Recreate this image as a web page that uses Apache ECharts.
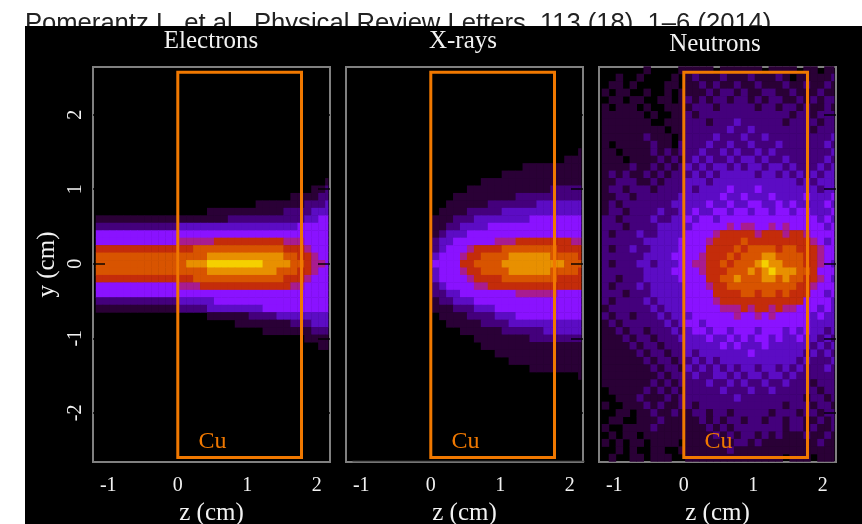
<!DOCTYPE html>
<html>
<head>
<meta charset="utf-8">
<style>
  html, body { margin: 0; padding: 0; background: #fff; }
  #chart { width: 862px; height: 524px; }
</style>
<script src="https://cdn.jsdelivr.net/npm/echarts@6/dist/echarts.min.js"></script>
</head>
<body>
<div id="chart"></div>
<script>
const panelTitles = ['Electrons', 'X-rays', 'Neutrons']
const citation = 'Pomerantz I., et al., Physical Review Letters, 113 (18), 1–6 (2014).'
const zTicks = [-1, 0, 1, 2]
const yTicks = [-2, -1, 0, 1, 2]
// Cu target: z from, z to, y from, y to
const cuBox = [0, 1.78, -2.6, 2.57]

// bin centres in cm
const zBins = [-1.13,-1.03,-0.93,-0.83,-0.73,-0.63,-0.53,-0.43,-0.33,-0.23,-0.13,-0.03,0.07,0.17,0.27,0.37,0.47,0.57,0.67,0.77,0.87,0.97,1.07,1.17,1.27,1.37,1.47,1.57,1.67,1.77,1.87,1.97,2.07,2.17]
const xrayZ = [0.07,0.17,0.27,0.37,0.47,0.57,0.67,0.77,0.87,0.97,1.07,1.17,1.27,1.37,1.47,1.57,1.67,1.77,1.87,1.97,2.07,2.17]

// dose level per cell, 0 (black) to 9 (yellow)
const electronY = [1.1,1,0.9,0.8,0.7,0.6,0.5,0.4,0.3,0.2,0.1,0,-0.1,-0.2,-0.3,-0.4,-0.5,-0.6,-0.7,-0.8,-0.9,-1,-1.1]
const electronRows = [
  [0,0,0,0,0,0,0,0,0,0,0,0,0,0,0,0,0,0,0,0,0,0,0,0,0,0,0,0,0,0,0,0,0,1],
  [0,0,0,0,0,0,0,0,0,0,0,0,0,0,0,0,0,0,0,0,0,0,0,0,0,0,0,0,0,0,0,1,1,2],
  [0,0,0,0,0,0,0,0,0,0,0,0,0,0,0,0,0,0,0,0,0,0,0,0,0,0,0,0,1,1,1,1,2,2],
  [0,0,0,0,0,0,0,0,0,0,0,0,0,0,0,0,0,0,0,0,0,0,0,1,1,1,1,1,1,1,2,2,2,3],
  [0,0,0,0,0,0,0,0,0,0,0,0,0,0,0,0,1,1,1,1,1,1,1,1,1,1,1,2,2,2,2,3,3,3],
  [1,1,1,1,1,1,1,1,1,1,1,1,1,1,1,1,1,1,1,2,2,2,2,2,2,2,2,2,2,2,3,3,4,4],
  [2,2,2,2,2,2,2,2,2,2,2,2,3,3,3,3,3,3,3,3,3,3,3,3,3,3,3,3,3,4,4,4,4,4],
  [4,4,4,4,4,4,4,4,4,4,4,4,4,4,4,4,4,4,4,4,4,4,4,4,4,4,4,4,4,4,4,4,4,4],
  [4,4,4,4,4,4,4,4,4,4,4,4,5,5,5,5,5,6,6,6,6,6,6,6,6,6,6,5,5,5,4,4,4,4],
  [6,6,6,6,6,6,6,6,6,6,6,6,6,6,7,7,7,7,7,7,7,7,7,7,7,7,7,6,6,6,5,4,4,4],
  [7,7,7,7,7,7,7,7,7,7,7,7,7,7,7,7,8,8,8,8,8,8,8,8,8,8,8,7,7,6,6,5,4,4],
  [7,7,7,7,7,7,7,7,7,7,7,7,7,8,8,8,9,9,9,9,9,9,9,9,8,8,8,8,7,7,6,5,5,4],
  [7,7,7,7,7,7,7,7,7,7,7,7,7,7,7,7,8,8,8,8,8,8,8,8,8,8,7,7,7,6,6,5,4,4],
  [6,6,6,6,6,6,6,6,6,6,6,6,6,6,7,7,7,7,7,7,7,7,7,7,7,7,7,6,6,6,5,4,4,4],
  [4,4,4,4,4,4,4,4,4,4,4,4,5,5,5,6,6,6,6,6,6,6,6,6,6,6,6,6,5,5,4,4,4,4],
  [4,4,4,4,4,4,4,4,4,4,4,4,4,4,4,4,4,4,4,4,4,4,4,4,4,4,4,4,4,4,4,4,4,4],
  [2,2,2,2,2,2,2,2,2,2,2,2,3,3,3,3,3,4,4,4,4,4,4,4,4,4,4,4,4,4,4,4,4,4],
  [1,1,1,1,1,1,1,1,1,1,1,1,2,2,2,2,3,3,3,3,3,3,3,3,4,4,4,4,4,4,4,4,4,4],
  [0,0,0,0,0,0,0,0,0,0,0,0,0,0,0,0,1,1,1,1,1,1,2,2,2,2,3,3,3,3,3,3,3,3],
  [0,0,0,0,0,0,0,0,0,0,0,0,0,0,0,0,0,0,0,0,1,1,1,1,1,1,1,1,2,2,2,3,3,3],
  [0,0,0,0,0,0,0,0,0,0,0,0,0,0,0,0,0,0,0,0,0,0,0,0,1,1,1,1,1,1,1,2,2,2],
  [0,0,0,0,0,0,0,0,0,0,0,0,0,0,0,0,0,0,0,0,0,0,0,0,0,0,0,0,0,0,1,1,1,1],
  [0,0,0,0,0,0,0,0,0,0,0,0,0,0,0,0,0,0,0,0,0,0,0,0,0,0,0,0,0,0,0,0,1,1]
]

const xrayY = [1.5,1.4,1.3,1.2,1.1,1,0.9,0.8,0.7,0.6,0.5,0.4,0.3,0.2,0.1,0,-0.1,-0.2,-0.3,-0.4,-0.5,-0.6,-0.7,-0.8,-0.9,-1,-1.1,-1.2,-1.3,-1.4,-1.5]
const xrayRows = [
  [0,0,0,0,0,0,0,0,0,0,0,0,0,0,0,0,0,0,0,0,0,1],
  [0,0,0,0,0,0,0,0,0,0,0,0,0,0,0,0,0,0,0,1,1,1],
  [0,0,0,0,0,0,0,0,0,0,0,0,0,1,1,1,1,1,1,1,1,1],
  [0,0,0,0,0,0,0,0,0,0,1,1,1,1,1,1,1,1,1,1,1,1],
  [0,0,0,0,0,0,0,1,1,1,1,1,1,1,1,1,1,1,1,1,1,1],
  [0,0,0,0,0,1,1,1,1,1,1,1,1,1,1,1,1,2,2,2,2,2],
  [0,0,0,1,1,1,1,1,1,1,1,1,2,2,2,2,2,2,2,2,2,2],
  [0,0,1,1,1,1,1,1,2,2,2,2,2,2,2,3,3,3,3,3,3,3],
  [0,1,1,1,1,2,2,2,2,2,3,3,3,3,3,3,3,3,3,3,3,3],
  [1,1,1,2,2,2,3,3,3,3,3,3,3,3,4,4,4,4,4,4,4,4],
  [1,1,2,2,3,3,3,3,4,4,4,4,4,4,4,4,4,4,4,4,4,4],
  [1,2,3,3,3,4,4,4,4,4,4,4,4,4,4,4,4,4,4,4,4,4],
  [2,3,3,4,4,4,4,4,4,5,5,5,6,6,6,6,6,6,6,6,5,5],
  [2,3,4,4,4,5,6,6,6,6,7,7,7,7,7,7,7,7,6,6,6,6],
  [3,4,4,4,5,6,6,7,7,7,7,8,8,8,8,8,8,7,7,7,7,6],
  [4,4,4,4,6,6,7,7,7,7,8,8,8,8,8,8,8,8,8,7,7,7],
  [3,4,4,4,5,6,6,7,7,7,7,8,8,8,8,8,8,7,7,7,7,6],
  [3,4,4,4,4,5,6,6,6,6,7,7,7,7,7,7,7,7,6,6,6,6],
  [2,3,4,4,4,4,5,5,6,6,6,6,6,6,6,6,6,6,6,6,6,6],
  [2,2,3,3,4,4,4,4,4,4,4,4,5,5,5,5,5,5,4,4,4,4],
  [1,2,2,3,3,3,4,4,4,4,4,4,4,4,4,4,4,4,4,4,4,4],
  [1,1,1,2,2,2,3,3,3,4,4,4,4,4,4,4,4,4,4,4,4,4],
  [0,1,1,1,1,2,2,2,2,3,3,3,4,4,4,4,4,4,4,4,4,4],
  [0,0,1,1,1,1,1,2,2,2,2,3,3,3,3,3,3,3,3,3,3,3],
  [0,0,0,0,1,1,1,1,1,1,2,2,2,2,2,2,3,3,3,3,3,3],
  [0,0,0,0,0,0,1,1,1,1,1,1,1,1,2,2,2,2,2,2,2,2],
  [0,0,0,0,0,0,0,1,1,1,1,1,1,1,1,1,1,1,1,1,1,1],
  [0,0,0,0,0,0,0,0,0,1,1,1,1,1,1,1,1,1,1,1,1,1],
  [0,0,0,0,0,0,0,0,0,0,0,1,1,1,1,1,1,1,1,1,1,1],
  [0,0,0,0,0,0,0,0,0,0,0,0,0,0,1,1,1,1,1,1,1,1],
  [0,0,0,0,0,0,0,0,0,0,0,0,0,0,0,0,0,0,0,0,0,1]
]

const neutronY = [2.6,2.5,2.4,2.3,2.2,2.1,2,1.9,1.8,1.7,1.6,1.5,1.4,1.3,1.2,1.1,1,0.9,0.8,0.7,0.6,0.5,0.4,0.3,0.2,0.1,0,-0.1,-0.2,-0.3,-0.4,-0.5,-0.6,-0.7,-0.8,-0.9,-1,-1.1,-1.2,-1.3,-1.4,-1.5,-1.6,-1.7,-1.8,-1.9,-2,-2.1,-2.2,-2.3,-2.4,-2.5,-2.6]
const neutronRows = [
  [0,0,0,0,0,0,1,0,0,0,0,1,1,1,1,1,0,1,1,1,1,1,1,0,1,1,1,1,0,1,1,0,1,1],
  [0,0,1,0,0,1,0,0,0,0,1,0,1,2,1,1,1,2,1,1,1,2,1,1,1,2,1,0,1,1,1,1,1,2],
  [0,1,1,0,1,0,0,0,0,1,1,0,1,1,2,1,2,1,1,2,1,1,2,1,1,1,2,1,1,2,1,1,2,1],
  [1,0,1,1,0,0,1,0,0,1,0,1,1,1,1,2,1,2,2,1,2,1,1,2,2,1,1,2,1,1,1,2,1,1],
  [0,1,1,0,1,1,0,0,1,1,0,1,2,1,2,1,2,2,1,2,2,1,2,1,2,2,1,1,2,1,2,1,2,2],
  [1,0,1,1,1,0,1,0,0,1,1,1,1,2,2,2,1,2,2,2,2,2,1,2,2,1,2,2,1,2,1,1,2,1],
  [1,1,1,1,1,1,0,1,0,0,1,1,2,1,2,2,2,2,2,2,2,2,2,2,2,2,2,1,2,2,1,2,2,2],
  [1,1,1,1,1,1,1,0,0,1,1,1,2,2,2,1,2,2,2,3,2,2,2,2,2,2,1,2,2,2,2,1,2,2],
  [1,1,1,1,1,1,1,1,1,0,1,1,2,2,2,2,2,2,3,2,2,3,2,2,2,2,2,2,2,2,1,2,2,2],
  [1,1,1,1,1,1,2,1,1,1,0,1,2,2,2,2,3,2,2,2,3,2,2,3,2,2,2,2,2,2,2,2,2,3],
  [1,0,1,1,1,1,1,2,1,1,0,2,2,2,2,3,2,2,3,2,2,3,2,2,2,3,2,2,2,2,2,2,3,2],
  [1,1,0,1,1,1,1,2,1,2,1,2,2,2,3,2,2,3,2,3,2,2,3,2,3,2,2,2,2,2,2,2,2,3],
  [1,1,1,0,1,1,1,1,2,1,2,1,2,3,2,3,2,2,3,2,3,3,2,3,2,2,3,2,2,2,2,2,3,2],
  [1,1,1,1,2,1,1,2,1,2,1,2,3,2,3,2,3,3,2,3,2,3,3,2,3,3,2,3,2,2,2,3,2,3],
  [1,2,1,2,1,1,2,1,2,1,2,2,2,3,2,3,2,3,3,3,3,3,2,3,3,2,3,2,3,2,3,2,3,3],
  [1,1,2,2,2,1,1,2,1,2,2,2,3,3,3,2,3,3,3,3,3,3,3,3,3,3,3,3,2,3,2,3,3,3],
  [1,2,2,1,2,2,2,1,2,2,2,2,3,2,3,3,3,3,4,3,3,3,4,3,3,3,3,3,3,3,3,2,3,3],
  [1,1,2,2,1,2,2,2,2,2,2,3,3,3,3,3,3,4,3,3,4,3,3,3,4,3,3,3,3,4,3,3,3,4],
  [1,2,1,2,2,2,2,2,2,2,3,3,3,3,3,4,3,3,4,3,3,4,4,3,3,4,3,4,3,3,3,3,4,3],
  [1,2,2,1,2,2,2,2,3,2,2,3,3,4,3,3,4,4,3,4,4,3,4,4,3,4,4,3,4,4,3,3,3,4],
  [2,2,1,2,2,2,2,3,2,2,3,3,4,3,4,4,3,4,4,4,4,4,4,4,4,4,4,4,4,4,4,3,4,3],
  [2,2,2,1,2,2,2,2,3,3,3,3,3,4,4,4,4,4,5,4,5,5,4,4,5,4,5,4,4,4,4,4,3,4],
  [2,1,2,2,2,3,2,2,3,3,3,3,4,4,4,4,5,6,6,6,6,6,5,6,6,6,5,6,6,5,4,4,4,4],
  [2,2,2,2,2,2,3,3,3,3,3,4,4,4,4,5,6,6,6,6,7,6,6,6,6,6,6,6,6,6,5,4,3,4],
  [2,1,2,2,3,2,2,3,3,3,3,4,4,4,4,6,6,6,6,7,6,7,7,7,7,6,7,7,6,6,6,5,4,4],
  [2,2,2,2,2,2,3,3,3,3,4,4,4,4,5,6,6,6,7,6,7,7,7,8,8,7,7,7,7,6,6,5,4,4],
  [2,1,2,2,2,3,3,2,3,3,3,4,4,5,5,6,6,7,6,7,7,7,8,9,8,8,7,7,7,6,6,5,4,3],
  [2,2,2,2,2,2,3,3,3,3,4,4,4,4,5,6,6,6,7,7,7,8,7,8,9,8,8,8,7,7,6,4,4,4],
  [2,2,1,2,2,2,3,3,3,3,3,4,4,4,4,6,6,7,7,8,7,7,7,8,8,7,8,7,7,6,6,5,4,3],
  [2,1,2,2,2,3,2,3,3,3,3,3,4,4,4,5,6,6,7,7,7,7,7,7,7,7,7,7,6,6,5,4,4,4],
  [2,2,2,1,2,2,2,3,3,3,3,3,4,4,4,4,6,6,6,6,7,7,6,7,7,6,7,6,6,6,4,4,3,4],
  [2,1,2,2,2,2,3,2,3,3,3,3,4,4,4,4,5,6,6,6,6,6,6,6,6,6,6,6,6,4,4,4,4,3],
  [1,2,2,2,2,2,2,3,2,3,3,3,4,4,4,4,4,5,5,5,6,5,6,6,5,6,5,5,4,4,4,3,4,3],
  [2,1,2,2,1,2,2,2,3,2,3,3,3,4,4,4,4,4,4,5,4,4,5,4,5,4,4,4,4,4,3,4,3,3],
  [1,2,1,2,2,2,2,2,2,3,2,3,4,4,3,4,4,4,4,4,4,4,4,4,4,4,4,4,4,4,3,3,3,3],
  [1,1,2,1,2,2,1,2,2,2,3,2,3,4,4,3,4,4,3,4,4,4,3,4,4,4,3,4,3,4,3,3,2,3],
  [1,1,1,2,1,2,2,1,2,2,2,3,3,3,3,4,3,3,4,3,4,3,4,4,3,4,3,3,4,3,3,2,3,2],
  [1,1,1,1,2,1,2,2,1,2,2,2,3,3,3,3,3,4,3,4,3,3,3,4,3,3,3,3,3,3,2,3,2,3],
  [1,1,1,1,1,2,1,2,2,1,2,2,3,2,3,3,3,3,3,3,3,4,3,3,3,3,3,3,3,2,3,2,3,2],
  [1,1,1,1,1,1,2,1,2,2,1,2,2,3,2,3,2,3,3,3,3,3,3,3,3,3,3,3,2,3,2,2,2,3],
  [1,1,1,1,1,1,1,2,1,2,2,1,3,2,3,2,3,2,3,2,3,3,2,3,3,2,3,2,3,2,2,2,3,2],
  [1,1,1,1,1,1,1,1,2,1,2,2,2,3,2,2,3,3,2,3,2,3,3,2,3,3,2,3,2,2,2,2,2,2],
  [1,1,1,1,1,1,1,2,1,2,1,2,2,2,2,3,2,2,3,2,3,2,2,3,2,2,3,2,2,2,1,2,2,2],
  [0,1,1,1,1,1,2,1,2,1,2,1,2,2,2,2,2,3,2,2,2,3,2,2,3,2,2,2,2,2,2,1,2,2],
  [0,0,1,1,1,2,1,1,1,2,1,2,2,2,2,2,2,2,2,3,2,2,2,2,2,2,2,2,2,1,2,2,1,2],
  [1,0,0,1,1,1,2,1,2,1,1,2,2,1,2,2,2,2,2,2,2,2,2,2,2,2,1,2,2,2,1,2,2,1],
  [0,0,1,1,0,1,1,2,1,1,2,1,1,2,2,1,2,2,1,2,2,2,2,2,1,2,2,2,1,2,2,1,2,2],
  [0,1,1,0,0,1,1,1,2,1,1,1,1,1,2,1,2,1,2,2,1,2,2,1,2,2,1,2,2,1,1,2,1,2],
  [1,0,0,1,1,1,1,2,1,1,1,1,1,1,1,2,1,2,1,2,2,2,2,2,2,2,1,2,2,1,2,1,1,2],
  [0,1,0,1,1,0,1,1,1,1,1,1,1,1,1,1,2,1,2,1,2,2,1,2,1,2,1,1,1,2,1,1,2,1],
  [1,0,1,0,1,1,0,1,1,1,1,0,1,1,1,1,1,1,1,2,2,1,2,1,1,1,1,1,1,1,1,2,1,1],
  [0,0,1,0,1,0,0,1,1,0,0,1,1,1,1,1,1,1,2,1,1,1,1,1,1,1,1,1,1,1,1,1,1,1],
  [0,1,0,0,1,1,0,1,1,1,0,0,1,1,1,1,1,1,1,1,1,1,1,1,1,1,0,1,1,1,0,1,1,1]
]

const levelColors = ['#000000','#2a0036','#44007c','#5c0cc4','#8a12ff','#a81c90','#c42c0a','#d85400','#e89000','#f5d000']

const serif = '"Liberation Serif", serif'
const frameLeft = [93, 346, 599]
const titleCentre = [211, 463, 715]
const titleTop = [29, 29, 32]
const dz = 0.1
const dy = 0.1
const heatEnd = 2.16
const orange = '#f07800'

const toCells = (rows, ys, zs) => {
  const cells = []
  rows.forEach((row, r) => {
    row.forEach((v, c) => {
      if (v > 0) cells.push([zs[c], ys[r], v])
    })
  })
  return cells
}

const renderCell = (params, api) => {
  const z = api.value(0)
  const y = api.value(1)
  const a = api.coord([z - dz / 2, y + dy / 2])
  const b = api.coord([Math.min(z + dz / 2, heatEnd), y - dy / 2])
  return {
    type: 'rect',
    shape: { x: a[0], y: a[1], width: b[0] - a[0] + 0.5, height: b[1] - a[1] + 0.5 },
    style: { fill: api.visual('color') }
  }
}

const renderBox = (params, api) => {
  const a = api.coord([api.value(0), api.value(3)])
  const b = api.coord([api.value(1), api.value(2)])
  const label = api.coord([0.5, -2.39])
  return {
    type: 'group',
    children: [
      {
        type: 'rect',
        shape: { x: a[0], y: a[1], width: b[0] - a[0], height: b[1] - a[1] },
        style: { fill: 'none', stroke: orange, lineWidth: 3 }
      },
      {
        type: 'text',
        x: label[0],
        y: label[1],
        style: { text: 'Cu', fill: orange, font: '24px ' + serif, textAlign: 'center', textVerticalAlign: 'middle' }
      }
    ]
  }
}

const heatData = [
  toCells(electronRows, electronY, zBins),
  toCells(xrayRows, xrayY, xrayZ),
  toCells(neutronRows, neutronY, zBins)
]

const grid = frameLeft.map(left => ({
  left: left,
  top: 67,
  width: 237,
  height: 395,
  outerBoundsMode: 'none',
  show: true,
  backgroundColor: '#000',
  borderColor: '#808080',
  borderWidth: 2
}))

const xAxis = frameLeft.map((left, i) => ({
  type: 'value',
  gridIndex: i,
  position: 'bottom',
  min: -1.22,
  max: 2.19,
  name: 'z (cm)',
  nameLocation: 'middle',
  nameGap: 37,
  nameTextStyle: { color: '#f2f2f2', fontFamily: serif, fontSize: 25 },
  axisLine: { show: false, onZero: false },
  splitLine: { show: false },
  axisTick: { show: false },
  axisLabel: { color: '#f2f2f2', fontFamily: serif, fontSize: 20, margin: 14, customValues: zTicks }
}))

const tickStyle = { color: 'rgba(0,0,0,0.7)', width: 2 }
const yAxis = []
frameLeft.forEach((left, i) => {
  yAxis.push({
    type: 'value',
    gridIndex: i,
    position: 'left',
    min: -2.66,
    max: 2.64,
    z: 5,
    name: i === 0 ? 'y (cm)' : '',
    nameLocation: 'middle',
    nameGap: 33,
    nameTextStyle: { color: '#f2f2f2', fontFamily: serif, fontSize: 25 },
    axisLine: { show: false, onZero: false },
    splitLine: { show: false },
    axisTick: { show: i === 0, inside: true, length: 12, customValues: yTicks, lineStyle: tickStyle },
    axisLabel: { show: i === 0, color: '#f2f2f2', fontFamily: serif, fontSize: 20, rotate: 90, margin: 7, customValues: yTicks }
  })
  yAxis.push({
    type: 'value',
    gridIndex: i,
    position: 'right',
    min: -2.66,
    max: 2.64,
    z: 5,
    axisLine: { show: false, onZero: false },
    splitLine: { show: false },
    axisLabel: { show: false },
    axisTick: { show: true, inside: true, length: 12, customValues: yTicks, lineStyle: tickStyle }
  })
})

const series = []
heatData.forEach((cells, i) => {
  series.push({
    type: 'custom',
    xAxisIndex: i,
    yAxisIndex: i * 2,
    renderItem: renderCell,
    encode: { x: 0, y: 1 },
    silent: true,
    data: cells
  })
})
frameLeft.forEach((left, i) => {
  series.push({
    type: 'custom',
    xAxisIndex: i,
    yAxisIndex: i * 2,
    renderItem: renderBox,
    encode: { x: [0, 1], y: [2, 3] },
    silent: true,
    z: 10,
    data: [cuBox]
  })
})

const chart = echarts.init(document.getElementById('chart'))
chart.setOption({
  backgroundColor: '#fff',
  animation: false,
  title: panelTitles.map((t, i) => ({
    text: t,
    left: titleCentre[i],
    top: titleTop[i],
    padding: 0,
    textAlign: 'center',
    textStyle: { color: '#f2f2f2', fontFamily: serif, fontSize: 25, fontWeight: 'normal' }
  })),
  graphic: [
    {
      type: 'text',
      left: 25,
      top: 11,
      z: -20,
      style: { text: citation, fill: '#222', font: '25.6px "Liberation Sans", sans-serif' }
    },
    {
      type: 'rect',
      left: 25,
      top: 26,
      z: -10,
      shape: { width: 837, height: 498 },
      style: { fill: '#000' }
    },
    {
      type: 'line',
      left: 350,
      top: 459,
      z: 1,
      shape: { x1: 0, y1: 0, x2: 232, y2: 0 },
      style: { stroke: '#555', lineWidth: 1.5 }
    }
  ],
  visualMap: {
    type: 'continuous',
    show: false,
    min: 0,
    max: 9,
    dimension: 2,
    seriesIndex: [0, 1, 2],
    inRange: { color: levelColors }
  },
  grid: grid,
  xAxis: xAxis,
  yAxis: yAxis,
  series: series
})
</script>
</body>
</html>
